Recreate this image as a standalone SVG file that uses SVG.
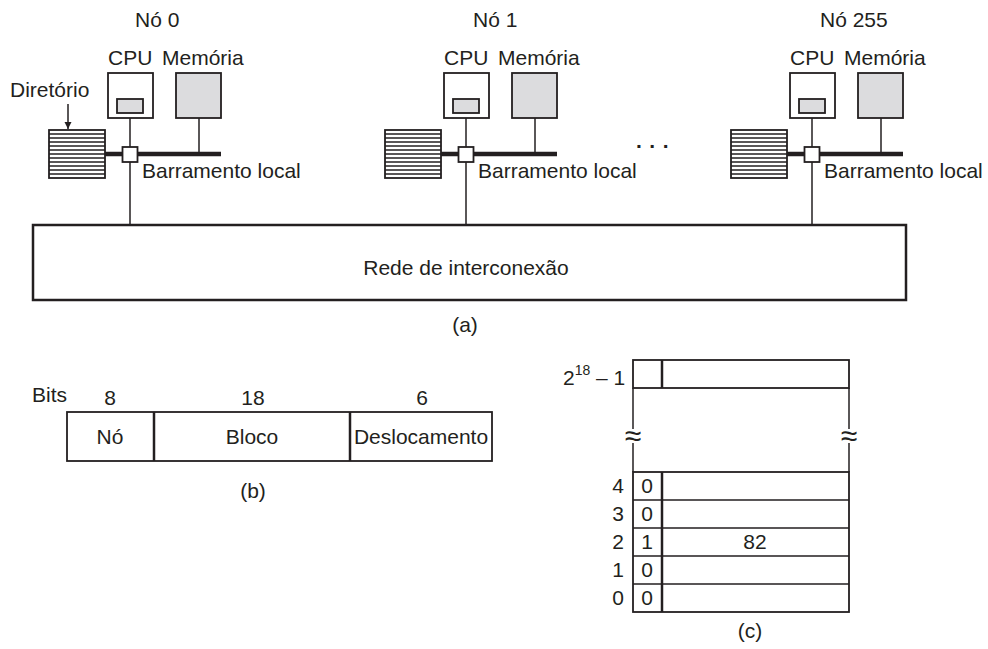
<svg xmlns="http://www.w3.org/2000/svg" width="988" height="649" viewBox="0 0 988 649">
<style>
text{font-family:"Liberation Sans",Arial,sans-serif;font-size:21px;fill:#231f20}
.mid{text-anchor:middle}
.ln{stroke:#231f20;stroke-width:1.5;fill:none}
.box{stroke:#231f20;stroke-width:1.8;fill:#fff}
.gray{stroke:#231f20;stroke-width:1.8;fill:#dcdcde}
.bus{stroke:#231f20;stroke-width:4.5}
.thick{stroke:#231f20;stroke-width:2.5;fill:none}
.stripe{stroke:#231f20;stroke-width:1.6}
.approx{font-size:30px}
</style>
<defs>
<marker id="arr" viewBox="0 0 10 10" refX="10" refY="5" markerWidth="7" markerHeight="8" markerUnits="userSpaceOnUse" orient="auto">
<path d="M0,0 L10,5 L0,10 z" fill="#231f20"/>
</marker>
<g id="nodebody">
<rect x="108" y="73" width="45" height="45" class="box"/>
<rect x="117" y="99" width="26" height="14" class="gray" stroke-width="1.5"/>
<rect x="176" y="73" width="45" height="45" class="gray"/>
<rect x="49" y="130" width="56" height="48" class="box"/>
<path class="stripe" d="M49 134H105M49 138H105M49 142H105M49 146H105M49 150H105M49 154H105M49 158H105M49 162H105M49 166H105M49 170H105M49 174H105"/>
<line x1="105" y1="154" x2="221" y2="154" class="bus"/>
<line x1="130" y1="118" x2="130" y2="147" class="ln"/>
<line x1="199" y1="118" x2="199" y2="154" class="ln"/>
<rect x="122.5" y="147" width="15" height="15" class="box" stroke-width="1.6"/>
<text x="108" y="65">CPU</text>
<text x="162" y="65">Memória</text>
<text x="142" y="178">Barramento local</text>
</g>
</defs>

<g id="node0">
<use href="#nodebody"/>
<text x="135" y="27">Nó 0</text>
<text x="10" y="97">Diretório</text>
<line x1="68" y1="104" x2="68" y2="129" class="ln" marker-end="url(#arr)"/>
</g>

<g id="node1" transform="translate(336,0)">
<use href="#nodebody"/>
<text x="137" y="27">Nó 1</text>
</g>

<text id="ellipsis" x="636" y="148" letter-spacing="7.5" font-weight="bold">...</text>

<g id="node255" transform="translate(682,0)">
<use href="#nodebody"/>
<text x="138" y="27">Nó 255</text>
</g>

<g id="connectors">
<line x1="130" y1="162" x2="130" y2="225" class="ln"/>
<line x1="466" y1="162" x2="466" y2="225" class="ln"/>
<line x1="812" y1="162" x2="812" y2="225" class="ln"/>
</g>

<g id="network">
<rect x="33" y="225" width="873" height="75" class="thick" fill="#fff"/>
<text class="mid" x="466" y="275">Rede de interconexão</text>
</g>
<text class="mid" x="465" y="332">(a)</text>

<g id="address">
<text x="32" y="402">Bits</text>
<text class="mid" x="110" y="405">8</text>
<text class="mid" x="253" y="405">18</text>
<text class="mid" x="422" y="405">6</text>
<rect x="67" y="412" width="425" height="49" class="box" stroke-width="2"/>
<line x1="154" y1="412" x2="154" y2="461" class="thick" stroke-width="2.2"/>
<line x1="350" y1="412" x2="350" y2="461" class="thick" stroke-width="2.2"/>
<text class="mid" x="110" y="444">Nó</text>
<text class="mid" x="252" y="444">Bloco</text>
<text class="mid" x="421" y="444">Deslocamento</text>
<text class="mid" x="253" y="498">(b)</text>
</g>

<g id="directory-table">
<rect x="633" y="360" width="216" height="28" class="box"/>
<line x1="662" y1="360" x2="662" y2="388" class="thick"/>
<line x1="633" y1="388" x2="633" y2="429" class="ln" stroke-width="1.8"/>
<line x1="633" y1="443" x2="633" y2="472" class="ln" stroke-width="1.8"/>
<line x1="849" y1="388" x2="849" y2="429" class="ln" stroke-width="1.8"/>
<line x1="849" y1="443" x2="849" y2="472" class="ln" stroke-width="1.8"/>
<text class="mid approx" x="633" y="446">≈</text>
<text class="mid approx" x="849" y="446">≈</text>
<rect x="633" y="472" width="216" height="140" class="box"/>
<path class="ln" stroke-width="2" d="M633 500H849M633 528H849M633 556H849M633 584H849"/>
<line x1="662" y1="472" x2="662" y2="612" class="thick"/>
<text x="563" y="385">2<tspan font-size="14" dy="-10">18</tspan><tspan dy="10"> – 1</tspan></text>
<text class="mid" x="618" y="493">4</text>
<text class="mid" x="618" y="521">3</text>
<text class="mid" x="618" y="549">2</text>
<text class="mid" x="618" y="577">1</text>
<text class="mid" x="618" y="605">0</text>
<text class="mid" x="647" y="493">0</text>
<text class="mid" x="647" y="521">0</text>
<text class="mid" x="647" y="549">1</text>
<text class="mid" x="647" y="577">0</text>
<text class="mid" x="647" y="605">0</text>
<text class="mid" x="755" y="549">82</text>
<text class="mid" x="750" y="638">(c)</text>
</g>
</svg>
